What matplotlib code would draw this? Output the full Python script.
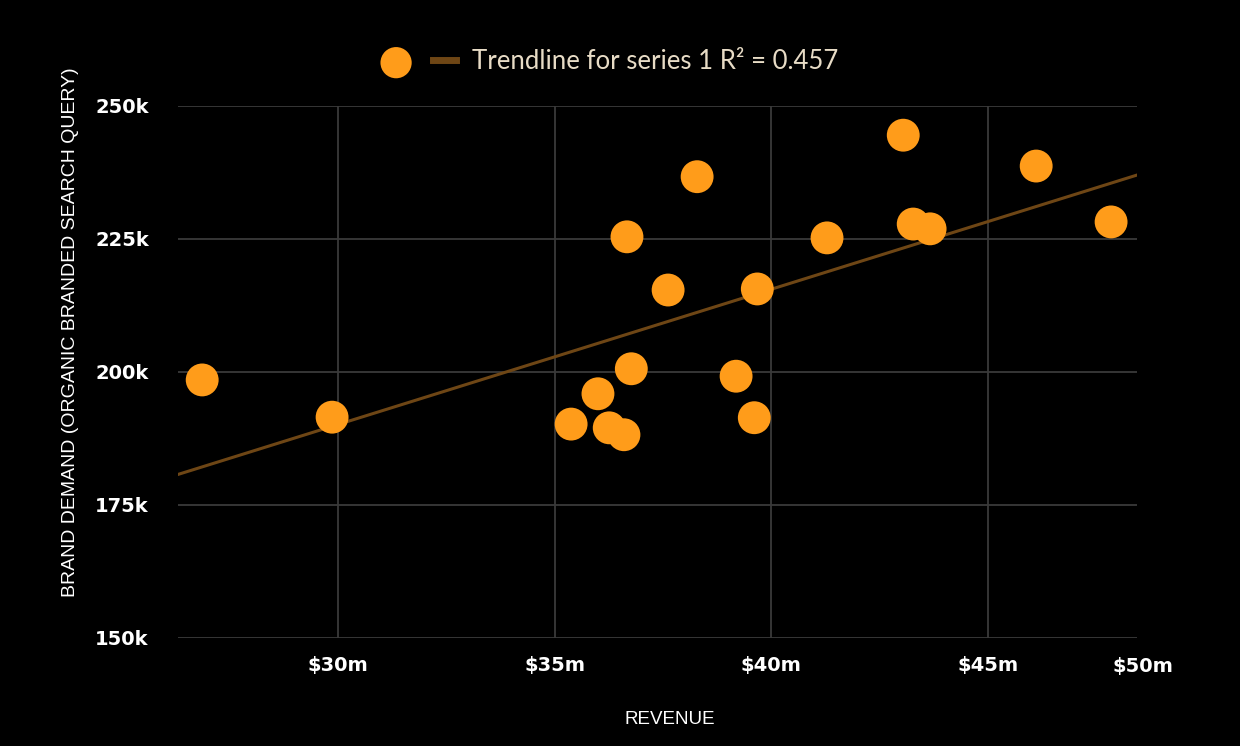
import matplotlib.pyplot as plt
import numpy as np

# revenue ($m) vs brand demand (k queries)
revenue = [26.86, 29.86, 35.38, 36.0, 36.26, 36.6, 36.77, 36.67, 37.62, 38.29,
           39.19, 39.61, 39.68, 41.29, 43.05, 43.28, 43.67, 46.12, 47.85]
demand = [198.5, 191.5, 190.2, 195.9, 189.5, 188.2, 200.6, 225.4, 215.4, 236.7,
          199.2, 191.4, 215.6, 225.2, 244.5, 227.8, 226.9, 238.7, 228.2]

x_ticks = [30, 35, 40, 45]
x_labels = ['$30m', '$35m', '$40m', '$45m']
y_ticks = [150, 175, 200, 225, 250]
y_labels = ['150k', '175k', '200k', '225k', '250k']
trend_label = 'Trendline for series 1 R² = 0.457'

xmin, xmax = 26.3, 48.45

fig = plt.figure(figsize=(12.4, 7.46), dpi=100, facecolor='black')
ax = fig.add_axes([0.1435, 0.1448, 0.7735, 0.7132])
ax.set_facecolor('black')

a, b = np.polyfit(revenue, demand, 1)
xs = np.array([xmin, xmax])
trend, = ax.plot(xs, a * xs + b, color='#6e4615', lw=2.2, zorder=2)
pts = ax.scatter(revenue, demand, s=560, color='#ff9c1a', edgecolors='none', zorder=3)

ax.set_xlim(xmin, xmax)
ax.set_ylim(150, 250)
ax.set_xticks(x_ticks)
ax.set_xticklabels(x_labels)
ax.set_yticks(y_ticks)
ax.set_yticklabels(y_labels)
ax.text(1.006, -0.053, '$50m', transform=ax.transAxes, ha='center', va='center',
        color='white', fontsize=14, fontweight='bold', family='DejaVu Sans')

ax.grid(True, color='#3a3a3a', lw=1.3)
ax.set_axisbelow(True)
for s in ax.spines.values():
    s.set_visible(False)
ax.tick_params(axis='y', length=0, colors='white', labelsize=14, pad=21)
ax.tick_params(axis='x', length=0, colors='white', labelsize=14, pad=13)
for lab in ax.get_xticklabels() + ax.get_yticklabels():
    lab.set_fontweight('bold')

ax.set_xlabel('REVENUE', color='white', fontsize=13.5, family='Liberation Sans')
ax.xaxis.set_label_coords(0.513, -0.137)
ax.set_ylabel('BRAND DEMAND (ORGANIC BRANDED SEARCH QUERY)', color='white', fontsize=14,
              family='Liberation Sans')
ax.yaxis.set_label_coords(-0.103, 0.575)

leg = fig.legend([pts, trend], ['', trend_label], loc='center', bbox_to_anchor=(0.493, 0.917),
                 ncol=2, frameon=False, handlelength=0.9, columnspacing=0.4,
                 handletextpad=0.6, markerscale=0.95, prop={'family': 'Lato', 'size': 18.5})
for t in leg.get_texts():
    t.set_color('#e8dcc6')
for ln in leg.get_lines():
    ln.set_linewidth(5)

fig.savefig('out.png', dpi=100, facecolor='black')
